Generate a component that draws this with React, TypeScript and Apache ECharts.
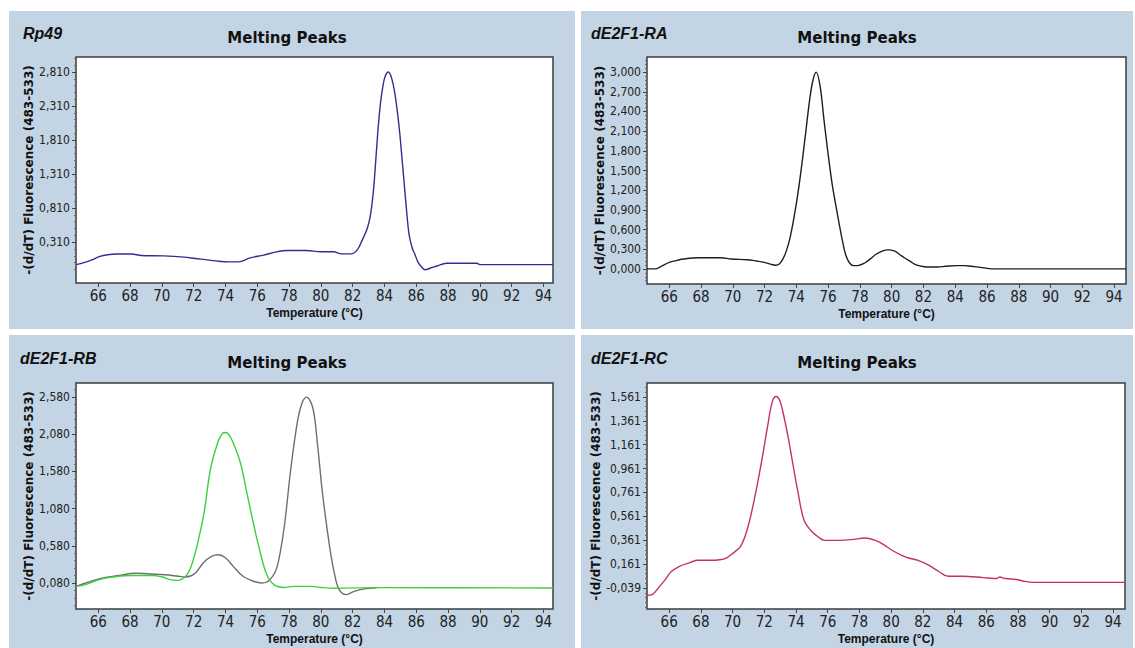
import React, { useEffect, useRef } from "react";
import * as echarts from "echarts";

// ---------------- Data ----------------
const tempTicks = [66, 68, 70, 72, 74, 76, 78, 80, 82, 84, 86, 88, 90, 92, 94];

// Rp49 (blue)
const rp49Temp = [64.6, 65.1, 65.6, 66.1, 66.6, 67.1, 68.1, 68.7, 70.1, 71.4, 72.1, 73.4, 74.2, 74.8, 75.1, 75.5, 76.4, 77.2, 77.9, 79.1, 80.0, 80.8, 81.3, 81.9, 82.3, 82.6, 82.9, 83.1, 83.3, 83.45, 83.6, 83.75, 83.9, 84.05, 84.25, 84.45, 84.65, 84.8, 84.95, 85.1, 85.25, 85.4, 85.55, 85.75, 85.92, 86.1, 86.35, 86.55, 86.9, 87.3, 87.9, 89.8, 90.0, 94.6];
const rp49Value = [-0.02, 0.01, 0.05, 0.1, 0.125, 0.135, 0.135, 0.115, 0.108, 0.09, 0.07, 0.035, 0.02, 0.02, 0.035, 0.075, 0.12, 0.167, 0.187, 0.187, 0.17, 0.17, 0.138, 0.138, 0.2, 0.34, 0.5, 0.68, 1.05, 1.5, 1.98, 2.35, 2.6, 2.75, 2.81, 2.72, 2.5, 2.25, 1.94, 1.55, 1.15, 0.75, 0.42, 0.22, 0.13, 0.02, -0.06, -0.095, -0.07, -0.04, 0.0, 0.0, -0.02, -0.02];
const rp49Ticks = [0.31, 0.81, 1.31, 1.81, 2.31, 2.81];

// dE2F1-RA (black)
const raTemp = [64.6, 65.1, 65.5, 66.0, 66.5, 66.9, 67.85, 69.25, 69.9, 70.9, 71.5, 72.0, 72.4, 72.7, 72.95, 73.15, 73.35, 73.6, 73.85, 74.1, 74.35, 74.6, 74.85, 75.05, 75.25, 75.5, 75.75, 76.0, 76.25, 76.5, 76.7, 76.9, 77.1, 77.35, 77.6, 77.85, 78.3, 78.7, 79.0, 79.4, 79.75, 80.2, 80.5, 80.8, 81.2, 81.5, 81.9, 82.2, 82.9, 83.4, 84.1, 84.6, 85.0, 85.7, 86.3, 94.75];
const raValue = [0.0, 0.0, 0.04, 0.1, 0.13, 0.15, 0.17, 0.17, 0.15, 0.14, 0.12, 0.1, 0.07, 0.056, 0.08, 0.15, 0.26, 0.47, 0.78, 1.15, 1.6, 2.1, 2.6, 2.88, 3.0, 2.78, 2.25, 1.75, 1.3, 0.95, 0.68, 0.43, 0.22, 0.09, 0.05, 0.05, 0.09, 0.16, 0.22, 0.27, 0.29, 0.27, 0.22, 0.17, 0.11, 0.066, 0.04, 0.03, 0.03, 0.04, 0.05, 0.05, 0.04, 0.02, 0.0, 0.0];
const raTicks = [0, 0.3, 0.6, 0.9, 1.2, 1.5, 1.8, 2.1, 2.4, 2.7, 3.0];

// dE2F1-RB green
const rbGreenTemp = [64.6, 65.2, 66.05, 66.9, 68.15, 69.4, 70.05, 70.5, 71.0, 71.5, 71.8, 72.2, 72.65, 73.05, 73.5, 73.8, 74.0, 74.2, 74.5, 74.95, 75.35, 75.8, 76.2, 76.6, 77.05, 77.7, 78.3, 79.35, 80.0, 80.85, 83.8, 94.6];
const rbGreenValue = [0.035, 0.058, 0.125, 0.16, 0.18, 0.18, 0.16, 0.125, 0.115, 0.17, 0.28, 0.57, 1.02, 1.6, 1.96, 2.09, 2.105, 2.08, 1.96, 1.69, 1.29, 0.84, 0.48, 0.19, 0.058, 0.02, 0.035, 0.035, 0.02, 0.01, 0.017, 0.013];
// dE2F1-RB grey
const rbGreyTemp = [64.6, 66.05, 67.3, 68.35, 69.4, 70.2, 71.05, 71.5, 72.1, 72.6, 73.15, 73.55, 74.0, 74.5, 75.1, 75.8, 76.3, 76.8, 77.25, 77.7, 78.1, 78.55, 78.85, 79.1, 79.5, 79.8, 80.1, 80.55, 80.85, 81.15, 81.6, 82.1, 82.75, 83.5];
const rbGreyValue = [0.035, 0.134, 0.18, 0.21, 0.2, 0.19, 0.17, 0.16, 0.21, 0.35, 0.44, 0.46, 0.42, 0.3, 0.17, 0.1, 0.08, 0.125, 0.3, 0.84, 1.6, 2.28, 2.52, 2.58, 2.43, 1.92, 1.29, 0.57, 0.21, -0.01, -0.077, -0.032, 0.0, 0.015];
const rbTicks = [0.08, 0.58, 1.08, 1.58, 2.08, 2.58];

// dE2F1-RC (magenta)
const rcTemp = [64.6, 64.95, 65.37, 65.8, 66.1, 66.65, 67.3, 67.8, 68.55, 69.2, 69.6, 70.0, 70.5, 70.9, 71.35, 71.8, 72.2, 72.5, 72.75, 72.95, 73.15, 73.5, 73.8, 74.1, 74.5, 74.95, 75.4, 75.8, 76.65, 77.5, 78.35, 79.0, 79.5, 80.05, 80.7, 81.1, 81.7, 82.4, 83.05, 83.6, 84.5, 85.8, 86.65, 86.85, 87.2, 87.9, 88.3, 88.95, 94.75];
const rcValue = [-0.1, -0.092, -0.03, 0.04, 0.095, 0.143, 0.173, 0.193, 0.193, 0.198, 0.212, 0.249, 0.31, 0.44, 0.69, 1.0, 1.31, 1.52, 1.565, 1.54, 1.45, 1.226, 1.0, 0.78, 0.53, 0.44, 0.388, 0.36, 0.36, 0.366, 0.38, 0.36, 0.327, 0.277, 0.232, 0.212, 0.193, 0.15, 0.095, 0.059, 0.059, 0.048, 0.04, 0.053, 0.04, 0.032, 0.02, 0.008, 0.008];
const rcTicks = [-0.039, 0.161, 0.361, 0.561, 0.761, 0.961, 1.161, 1.361, 1.561];

const panelTitle = "Melting Peaks";
const yName = "-(d/dT) Fluorescence (483-533)";
const xName = "Temperature (°C)";

// ---------------- Helpers ----------------
const pairs = (t: number[], v: number[]) => t.map((x, i) => [x, v[i]]);
const fmt = (v: number) => v.toFixed(3).replace(".", ",");
function minorTicks(ticks: number[], min: number, max: number, n: number) {
  const step = (ticks[1] - ticks[0]) / n;
  const out: number[] = [];
  for (let k = -200; k <= 200; k++) {
    if (k % n === 0) continue;
    const v = ticks[0] + k * step;
    if (v > min && v < max) out.push(+v.toFixed(6));
  }
  return out;
}

const NARROW = "'Liberation Sans Narrow', 'Arial Narrow', 'DejaVu Sans Condensed', 'Liberation Sans', sans-serif";
const ARIAL = "'Liberation Sans', Arial, sans-serif";
const VERDANA = "'DejaVu Sans', Verdana, sans-serif";
const PANEL_BG = "#c3d4e4";

const panels = [
  {
    label: "Rp49", bg: [9, 11, 566, 318], grid: [76, 57, 477, 226], titleX: 287, titleY: 38, labelX: 23, labelY: 33,
    yMin: -0.29, yMax: 3.03, xMax: 94.6, ticks: rp49Ticks,
    series: [{ data: pairs(rp49Temp, rp49Value), color: "#2f2f8f" }],
  },
  {
    label: "dE2F1-RA", bg: [581, 11, 552, 318], grid: [647, 57, 479, 227], titleX: 857, titleY: 38, labelX: 591, labelY: 33,
    yMin: -0.23, yMax: 3.23, xMax: 94.75, ticks: raTicks,
    series: [{ data: pairs(raTemp, raValue), color: "#1e1e1e" }],
  },
  {
    label: "dE2F1-RB", bg: [9, 335, 566, 313], grid: [76, 383, 477, 226], titleX: 287, titleY: 363, labelX: 20, labelY: 358,
    yMin: -0.27, yMax: 2.77, xMax: 94.6, ticks: rbTicks,
    series: [
      { data: pairs(rbGreyTemp, rbGreyValue), color: "#6e6e6e" },
      { data: pairs(rbGreenTemp, rbGreenValue), color: "#3ccf3c" },
    ],
  },
  {
    label: "dE2F1-RC", bg: [581, 335, 552, 313], grid: [647, 383, 478, 226], titleX: 857, titleY: 363, labelX: 591, labelY: 358,
    yMin: -0.215, yMax: 1.678, xMax: 94.75, ticks: rcTicks,
    series: [{ data: pairs(rcTemp, rcValue), color: "#c2306e" }],
  },
];

export default function App() {
  const ref = useRef<HTMLDivElement>(null);
  useEffect(() => {
    document.body.style.margin = "0";
    if (!ref.current) return;
    const chart = echarts.init(ref.current, undefined, { renderer: "svg" });

    const grid: any[] = [];
    const xAxis: any[] = [];
    const yAxis: any[] = [];
    const series: any[] = [];
    const graphic: any[] = [];

    panels.forEach((p, i) => {
      const [gl, gt, gw, gh] = p.grid;
      graphic.push({ type: "rect", z: -10, silent: true, shape: { x: p.bg[0], y: p.bg[1], width: p.bg[2], height: p.bg[3] }, style: { fill: PANEL_BG } });
      graphic.push({
        type: "text", z: 10, x: p.titleX, y: p.titleY,
        style: { text: panelTitle, font: `bold 15px ${VERDANA}`, fill: "#111", textAlign: "center", textVerticalAlign: "middle" },
      });
      graphic.push({
        type: "text", z: 10, x: p.labelX, y: p.labelY,
        style: { text: p.label, font: `italic bold 16px ${ARIAL}`, fill: "#111", textAlign: "left", textVerticalAlign: "middle" },
      });

      grid.push({ left: gl, top: gt, width: gw, height: gh, show: true, backgroundColor: "#ffffff", borderColor: "#3c3c3c", borderWidth: 1.5, containLabel: false });

      xAxis.push({
        type: "value", gridIndex: i, min: 64.6, max: p.xMax, position: "bottom",
        name: xName, nameLocation: "middle", nameGap: 24,
        nameTextStyle: { fontFamily: ARIAL, fontWeight: "bold", fontSize: 12, color: "#111" },
        axisLine: { show: false, onZero: false },
        axisTick: { show: true, customValues: tempTicks, length: 4, lineStyle: { color: "#444" } },
        axisLabel: { customValues: tempTicks, fontFamily: NARROW, fontSize: 15, color: "#222", margin: 5 },
        splitLine: { show: false },
      });

      yAxis.push({
        type: "value", gridIndex: i, min: p.yMin, max: p.yMax, position: "left",
        name: yName, nameLocation: "middle", nameRotate: 90, nameGap: 37,
        nameTextStyle: { fontFamily: VERDANA, fontWeight: "bold", fontSize: 12, color: "#111" },
        axisLine: { show: false, onZero: false },
        axisTick: { show: true, customValues: p.ticks, length: 4, lineStyle: { color: "#444" } },
        axisLabel: { customValues: p.ticks, formatter: (v: number) => fmt(v), fontFamily: NARROW, fontSize: 12, color: "#222", margin: 6 },
        splitLine: { show: false },
      });
      yAxis.push({
        type: "value", gridIndex: i, min: p.yMin, max: p.yMax, position: "left",
        axisLine: { show: false, onZero: false },
        axisTick: { show: true, customValues: minorTicks(p.ticks, p.yMin, p.yMax, 5), length: 2, lineStyle: { color: "#666" } },
        axisLabel: { show: false },
        splitLine: { show: false },
      });

      p.series.forEach((s, k) => {
        series.push({
          type: "line", xAxisIndex: i, yAxisIndex: 2 * i, data: s.data,
          showSymbol: false, symbol: "none", smooth: 0.35, silent: true, z: 3 + k,
          lineStyle: { color: s.color, width: 1.4 },
        });
      });
    });

    chart.setOption({
      animation: false,
      backgroundColor: "#ffffff",
      grid, xAxis, yAxis, series, graphic,
    });
    return () => chart.dispose();
  }, []);
  return <div ref={ref} style={{ width: 1135, height: 648 }} />;
}
